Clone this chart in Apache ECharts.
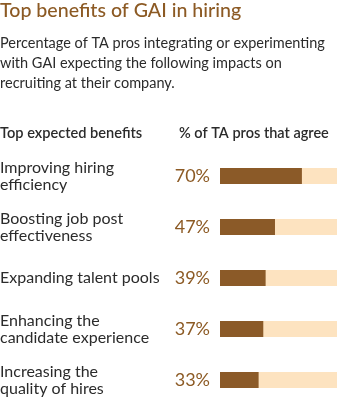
<!DOCTYPE html>
<html><head><meta charset="utf-8">
<script src="https://cdn.jsdelivr.net/npm/echarts@6/dist/echarts.min.js"></script>
<style>html,body{margin:0;padding:0;background:#fff}#c{width:342px;height:398px}</style>
</head><body><div id="c"></div>
<script>
const categories = ['Improving hiring\nefficiency','Boosting job post\neffectiveness','Expanding talent pools','Enhancing the\ncandidate experience','Increasing the\nquality of hires'];
const values = [70, 47, 39, 37, 33];
const trackValues = [100, 100, 100, 100, 100];
const titleText = 'Top benefits of GAI in hiring';
const subtitleText = 'Percentage of TA pros integrating or experimenting\nwith GAI expecting the following impacts on\nrecruiting at their company.';
const headerLeft = 'Top expected benefits';
const headerRight = '% of TA pros that agree';

const FONT = 'Lato';
const chart = echarts.init(document.getElementById('c'));
chart.setOption({
  animation: false,
  textStyle: {fontFamily: FONT},
  title: [
    {text: titleText, left: 0, top: 0, padding: 0, textStyle: {fontFamily: FONT, fontSize: 19.6, fontWeight: 500, color: '#8c5a24', lineHeight: 22}},
    {text: subtitleText, left: 0, top: 33, padding: 0, textStyle: {fontFamily: FONT, fontSize: 14.5, fontWeight: 'normal', color: '#2b2b2b', lineHeight: 20}},
    {text: headerLeft, left: 0, top: 125, padding: 0, textStyle: {fontFamily: FONT, fontSize: 14.6, fontWeight: 600, color: '#2b2b2b', lineHeight: 16}},
    {text: headerRight, left: 179, top: 125, padding: 0, textStyle: {fontFamily: FONT, fontSize: 14.5, fontWeight: 600, color: '#2b2b2b', lineHeight: 16}}
  ],
  grid: {left: 220, right: 5, top: 176, bottom: 18, containLabel: false, outerBoundsMode: 'none'},
  xAxis: {type: 'value', min: 0, max: 100, show: false},
  yAxis: {
    type: 'category', data: categories, inverse: true, boundaryGap: false,
    axisLine: {show: false}, axisTick: {show: false}, splitLine: {show: false},
    axisLabel: {align: 'left', margin: 220, fontFamily: FONT, fontSize: 16, lineHeight: 17, color: '#2b2b2b'}
  },
  series: [
    {type: 'bar', data: trackValues, barWidth: 16, barGap: '-100%', itemStyle: {color: '#fde3c0'}, silent: true, z: 1},
    {type: 'bar', data: values, barWidth: 16, itemStyle: {color: '#8b5a28'}, z: 2,
     label: {show: true, position: 'left', distance: 10, formatter: '{c}%', fontFamily: FONT, fontSize: 18, color: '#8c5a24'}}
  ]
});
</script></body></html>
